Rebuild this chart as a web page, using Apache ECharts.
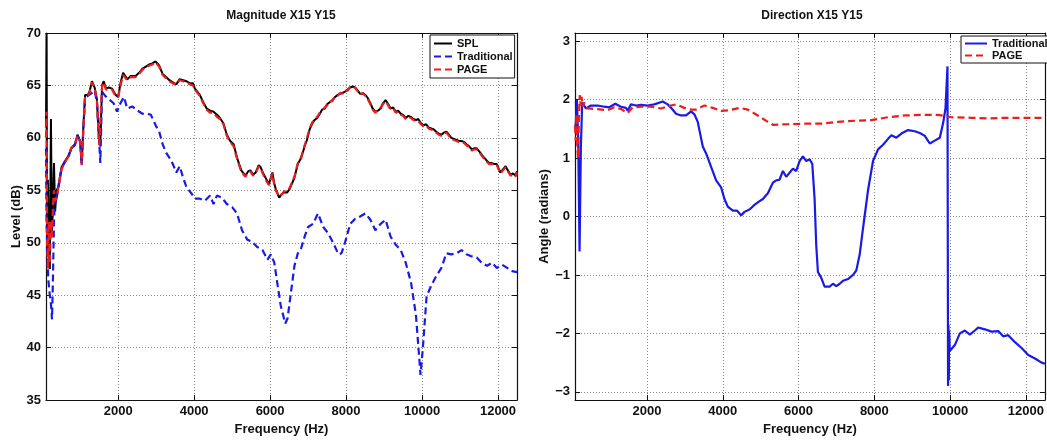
<!DOCTYPE html>
<html>
<head>
<meta charset="utf-8">
<title>Magnitude / Direction X15 Y15</title>
<script src="https://cdn.jsdelivr.net/npm/echarts@6/dist/echarts.min.js"></script>
<style>
  body { margin: 0; background: #fff; }
  #chart { width: 1047px; height: 441px; }
</style>
</head>
<body>
<div id="chart"></div>
<script>
// ---- magnitude panel (dB) ----
var magFreq = [100, 115, 130, 150, 175, 200, 230, 255, 280, 310, 340, 380, 420, 510, 600, 690, 770, 860, 930, 1000,
  1040, 1085, 1130, 1200, 1245, 1310, 1380, 1440, 1500, 1530, 1575, 1620, 1680, 1750, 1840, 1930, 2000, 2060, 2130, 2240,
  2330, 2460, 2550, 2640, 2730, 2820, 2900, 2980, 3080, 3170, 3260, 3350, 3440, 3530, 3620, 3710, 3800, 3890, 3970, 4020,
  4150, 4240, 4330, 4420, 4510, 4600, 4680, 4770, 4860, 4950, 5040, 5130, 5240, 5350, 5420, 5480, 5550, 5620, 5700, 5750,
  5820, 5880, 5970, 6060, 6100, 6150, 6240, 6300, 6370, 6450, 6510, 6570, 6640, 6730, 6820, 6910, 6970, 7040, 7100, 7170,
  7240, 7310, 7370, 7440, 7500, 7570, 7640, 7710, 7780, 7840, 7910, 7970, 8040, 8110, 8180, 8240, 8310, 8370, 8440, 8510,
  8570, 8640, 8700, 8770, 8840, 8910, 8970, 9040, 9110, 9170, 9240, 9310, 9370, 9440, 9500, 9570, 9640, 9710, 9770, 9840,
  9900, 9970, 10040, 10110, 10170, 10240, 10310, 10370, 10440, 10510, 10570, 10640, 10710, 10770, 10840, 10910, 10970, 11040, 11110, 11170,
  11240, 11310, 11370, 11440, 11510, 11570, 11640, 11710, 11770, 11840, 11910, 11970, 12060, 12130, 12200, 12260, 12330, 12400, 12460, 12500];
var splDb = [61, 70, 49, 56, 50, 47.5, 61.8, 51, 53, 57.6, 53, 55, 55.3, 57.2, 57.8, 58.3, 59.0, 59.4, 60.3, 59.7,
  57.5, 61.2, 64.1, 64.1, 64.4, 65.4, 64.8, 63.7, 59.5, 59.3, 65.0, 65.4, 64.7, 64.8, 64.7, 64.1, 63.9, 65.2, 66.2, 65.6,
  65.9, 65.9, 66.2, 66.6, 66.8, 67.0, 67.1, 67.3, 66.9, 66.1, 65.8, 65.5, 65.3, 65.1, 65.6, 65.5, 65.4, 65.2, 65.2, 64.7,
  64.1, 63.4, 62.8, 62.6, 62.5, 62.2, 61.9, 61.4, 60.3, 59.7, 59.4, 58.1, 56.9, 56.4, 56.8, 56.9, 56.5, 56.7, 57.4, 57.2,
  56.6, 56.2, 55.6, 56.7, 55.8, 55.1, 54.3, 54.6, 54.8, 54.8, 55.1, 55.6, 56.2, 57.5, 58.1, 59.2, 59.8, 60.8, 61.3, 61.7,
  61.9, 62.3, 62.7, 62.8, 63.2, 63.4, 63.6, 63.9, 64.1, 64.2, 64.3, 64.4, 64.6, 64.8, 64.9, 64.8, 64.5, 64.2, 64.2, 64.1,
  63.8, 63.3, 62.8, 62.5, 62.6, 62.8, 63.3, 63.6, 63.2, 62.8, 62.9, 62.5, 62.6, 62.3, 62.2, 61.9, 62.1, 62.0, 61.8, 61.7,
  61.8, 61.4, 61.2, 61.3, 61.0, 60.9, 60.8, 60.6, 60.4, 60.3, 60.5, 60.6, 60.3, 60.0, 59.9, 59.8, 59.7, 59.7, 59.6, 59.4,
  59.2, 58.9, 59.0, 59.0, 58.7, 58.4, 58.1, 57.8, 57.6, 57.6, 57.5, 57.5, 56.7, 57.0, 57.3, 56.9, 56.5, 56.6, 56.4, 56.8];
var pageDb = [60, 62.5, 50, 47.5, 52, 48, 52, 50.5, 53.5, 55, 54, 54.2, 55.2, 57.0, 57.7, 58.2, 59.1, 59.3, 60.2, 59.6,
  57.4, 61.0, 64.0, 64.0, 64.3, 65.3, 64.7, 63.6, 59.3, 59.2, 64.9, 65.3, 64.6, 64.7, 64.6, 64.0, 63.9, 65.0, 66.0, 65.5,
  65.8, 65.8, 66.1, 66.5, 66.7, 66.9, 67.0, 67.2, 66.8, 66.0, 65.7, 65.4, 65.2, 65.1, 65.5, 65.4, 65.3, 65.1, 65.0, 64.6,
  64.0, 63.3, 62.7, 62.4, 62.4, 62.0, 61.8, 61.3, 60.2, 59.6, 59.2, 58.0, 56.8, 56.3, 56.7, 56.8, 56.4, 56.6, 57.3, 57.1,
  56.5, 56.0, 55.5, 56.6, 55.7, 55.0, 54.4, 54.6, 54.9, 54.9, 55.2, 55.7, 56.3, 57.6, 58.2, 59.3, 60.0, 60.9, 61.4, 61.8,
  62.0, 62.4, 62.6, 62.9, 63.1, 63.5, 63.5, 64.0, 64.0, 64.3, 64.2, 64.5, 64.5, 64.9, 64.8, 64.8, 64.4, 64.1, 64.3, 64.0,
  63.7, 63.2, 62.7, 62.4, 62.7, 62.9, 63.2, 63.5, 63.1, 62.7, 62.8, 62.4, 62.5, 62.2, 62.1, 61.8, 62.0, 61.9, 61.7, 61.6,
  61.6, 61.3, 61.1, 61.2, 60.9, 60.8, 60.7, 60.5, 60.3, 60.2, 60.4, 60.5, 60.2, 59.9, 59.8, 59.7, 59.6, 59.6, 59.5, 59.3,
  59.1, 58.8, 58.9, 58.9, 58.6, 58.3, 58.0, 57.7, 57.5, 57.5, 57.4, 57.4, 56.6, 56.9, 57.2, 56.8, 56.4, 56.5, 56.3, 56.7];

var tradFreq = [100, 115, 130, 160, 200, 230, 258, 280, 310, 340, 380, 420, 510, 600, 690, 770, 860, 930, 1000, 1040,
  1085, 1130, 1200, 1245, 1310, 1380, 1440, 1500, 1530, 1575, 1660, 1750, 1880, 1970, 2060, 2150, 2240, 2370, 2510, 2640,
  2770, 2860, 3000, 3080, 3170, 3260, 3350, 3440, 3530, 3620, 3710, 3800, 3930, 4020, 4150, 4280, 4420, 4510, 4600, 4730,
  4860, 5000, 5130, 5260, 5400, 5530, 5660, 5800, 5930, 6020, 6110, 6200, 6280, 6400, 6460, 6550, 6640, 6730, 6820, 6910,
  7000, 7130, 7260, 7400, 7530, 7660, 7800, 7880, 7970, 8110, 8240, 8370, 8510, 8640, 8770, 8910, 9040, 9170, 9310, 9440,
  9570, 9710, 9840, 9960, 10020, 10120, 10240, 10370, 10510, 10640, 10770, 10910, 11040, 11170, 11310, 11440, 11570, 11710, 11840, 11970,
  12110, 12240, 12370, 12500];
var tradDb = [59, 52, 50, 46.5, 45, 44.2, 42.7, 46, 52, 54.5, 54.3, 55.0, 57.1, 57.7, 58.2, 59.0, 59.3, 60.2, 59.6, 57.5,
  61, 63.9, 64.0, 64.1, 64.3, 64.5, 63.4, 59.7, 57.6, 64.4, 64.0, 63.7, 63.3, 62.5, 63.3, 63.9, 62.8, 63.0, 62.6, 62.3,
  62.3, 62.2, 61.1, 60.6, 59.4, 58.6, 58.1, 57.5, 56.7, 57.3, 56.2, 55.3, 54.7, 54.2, 54.2, 54.0, 54.5, 53.7, 54.5, 54.3,
  53.7, 53.4, 52.8, 51.2, 50.3, 50.1, 49.6, 49.3, 48.4, 48.9, 48.1, 45.9, 44.0, 42.3, 42.8, 45.3, 47.8, 49.0, 49.5, 50.6,
  51.5, 51.8, 52.8, 51.5, 50.9, 50.0, 48.9, 49.0, 50.0, 51.8, 52.3, 52.5, 52.8, 52.2, 51.2, 51.8, 52.2, 50.6, 49.8, 49.3,
  48.1, 46.2, 43.1, 37.4, 39.9, 44.9, 45.9, 46.8, 47.6, 49.0, 48.9, 49.0, 49.3, 48.9, 48.7, 48.6, 48.1, 47.8, 48.1, 47.6,
  47.9, 47.6, 47.3, 47.2];

// ---- direction panel (radians) ----
var dirTradFreq = [100, 123, 150, 185, 220, 255, 290, 388, 520, 696, 872, 1004, 1163, 1313, 1445, 1489, 1577, 1709, 1841, 2018,
  2194, 2414, 2546, 2652, 2767, 2899, 3031, 3163, 3251, 3339, 3472, 3560, 3692, 3824, 3956, 4044, 4132, 4265, 4379, 4485,
  4573, 4705, 4837, 4943, 5058, 5190, 5322, 5410, 5498, 5586, 5674, 5762, 5850, 5938, 6027, 6115, 6203, 6291, 6362, 6423,
  6467, 6511, 6599, 6687, 6820, 6908, 6996, 7084, 7172, 7304, 7437, 7525, 7613, 7701, 7833, 7965, 8097, 8229, 8362, 8450,
  8582, 8714, 8890, 9067, 9199, 9331, 9463, 9595, 9727, 9815, 9877, 9930, 9945, 9955, 9965, 9975, 9990, 10040, 10124, 10256,
  10388, 10520, 10652, 10740, 10917, 11093, 11269, 11401, 11533, 11710, 11886, 12062, 12238, 12414, 12500];
var dirTrad = [1.5, 1.6, 2.0, 1.3, -0.6, 1.2, 1.95, 1.85, 1.9, 1.9, 1.88, 1.87, 1.93, 1.88, 1.86, 1.81, 1.92, 1.9, 1.91, 1.9,
  1.92, 1.97, 1.92, 1.85, 1.76, 1.73, 1.73, 1.8, 1.75, 1.62, 1.2, 1.08, 0.85, 0.62, 0.5, 0.3, 0.17, 0.1, 0.1, 0.02,
  0.08, 0.12, 0.2, 0.25, 0.3, 0.4, 0.58, 0.62, 0.63, 0.78, 0.68, 0.75, 0.82, 0.78, 0.95, 1.03, 0.95, 0.98, 0.9, 0.3,
  -0.5, -0.95, -1.05, -1.2, -1.2, -1.15, -1.19, -1.15, -1.1, -1.07, -1.0, -0.92, -0.65, -0.2, 0.45, 0.95, 1.15, 1.23, 1.33, 1.39,
  1.35, 1.42, 1.48, 1.46, 1.43, 1.38, 1.25, 1.3, 1.35, 1.6, 1.85, 2.57, -2.9, -1.85, -2.8, -1.95, -2.3, -2.28, -2.2, -2.0,
  -1.95, -2.02, -1.95, -1.9, -1.93, -1.97, -1.96, -2.05, -2.03, -2.15, -2.25, -2.37, -2.43, -2.5, -2.52];

var dirPageFreq = [100, 120, 140, 160, 180, 200, 225, 250, 275, 300, 340, 432, 696, 960, 1137, 1313, 1489, 1621, 1841, 2106,
  2370, 2634, 2767, 2987, 3163, 3295, 3516, 3736, 3956, 4176, 4441, 4661, 4925, 5190, 5322, 5718, 6159, 6599, 7040, 7481,
  7921, 8362, 8802, 9243, 9683, 10035, 10564, 11005, 11445, 11886, 12500];
var dirPage = [1.55, 1.3, 1.75, 1.2, 1.0, 1.6, 2.08, 1.9, 2.05, 1.88, 1.95, 1.85, 1.84, 1.82, 1.87, 1.84, 1.77, 1.87, 1.88, 1.88,
  1.85, 1.9, 1.92, 1.86, 1.83, 1.83, 1.9, 1.86, 1.81, 1.82, 1.86, 1.83, 1.73, 1.62, 1.57, 1.58, 1.59, 1.59, 1.62, 1.64,
  1.65, 1.7, 1.73, 1.74, 1.74, 1.7, 1.69, 1.68, 1.69, 1.69, 1.69];

var freqTicks = [2000, 4000, 6000, 8000, 10000, 12000];
var angleTicks = [-3, -2, -1, 0, 1, 2, 3];

function pairs(xs, ys) {
  return xs.map(function (x, i) { return [x, ys[i]]; });
}

var font = 'Liberation Sans, Arial, sans-serif';
var grid0 = { left: 46, top: 33, width: 471, height: 373 };
var grid1 = { left: 575, top: 33, width: 473, height: 373 };

function freqAxis(gi, pos, main) {
  return {
    type: 'value', gridIndex: gi, position: pos, min: 100, max: 12500,
    name: main ? 'Frequency (Hz)' : '', nameLocation: 'middle', nameGap: 17,
    nameTextStyle: { fontFamily: font, fontWeight: 'bold', fontSize: 13, color: '#111' },
    axisLine: { onZero: false, lineStyle: { color: '#111', width: 1.2 } },
    axisTick: { show: true, inside: true, length: 5, customValues: freqTicks, lineStyle: { color: '#111' } },
    axisLabel: { show: main, customValues: freqTicks, margin: 5, fontFamily: font, fontWeight: 'bold', fontSize: 13, color: '#111',
      formatter: function (v) { return String(v); } },
    splitLine: { show: main, lineStyle: { color: '#8a8a8a', type: [1, 2], width: 1 } }
  };
}

function valAxis(gi, pos, main, opts) {
  var ax = {
    type: 'value', gridIndex: gi, position: pos, min: opts.min, max: opts.max,
    name: main ? opts.name : '', nameLocation: 'middle', nameGap: opts.gap,
    nameTextStyle: { fontFamily: font, fontWeight: 'bold', fontSize: 13, color: '#111' },
    axisLine: { onZero: false, lineStyle: { color: '#111', width: 1.2 } },
    axisTick: { show: true, inside: true, length: 5, lineStyle: { color: '#111' } },
    axisLabel: { show: main, margin: 5, fontFamily: font, fontWeight: 'bold', fontSize: 13, color: '#111',
      formatter: function (v) { return String(v).replace('-', '\u2212'); } },
    splitLine: { show: main, lineStyle: { color: '#8a8a8a', type: [1, 2], width: 1 } }
  };
  if (opts.interval) ax.interval = opts.interval;
  if (opts.ticks) { ax.axisTick.customValues = opts.ticks; ax.axisLabel.customValues = opts.ticks; }
  return ax;
}

var magOpts = { min: 35, max: 70, interval: 5, name: 'Level (dB)', gap: 23 };
var dirOpts = { min: -Math.PI, max: Math.PI, ticks: angleTicks, name: 'Angle (radians)', gap: 22 };

var legendText = { fontFamily: font, fontWeight: 'bold', fontSize: 11, color: '#111' };

var chart = echarts.init(document.getElementById('chart'), null, { renderer: 'canvas' });

chart.setOption({
  animation: false,
  backgroundColor: '#fff',
  title: [
    { text: 'Magnitude X15 Y15', left: 281, top: 10, textAlign: 'center', padding: 0,
      textStyle: { fontFamily: font, fontWeight: 'bold', fontSize: 12, color: '#111' } },
    { text: 'Direction X15 Y15', left: 812, top: 10, textAlign: 'center', padding: 0,
      textStyle: { fontFamily: font, fontWeight: 'bold', fontSize: 12, color: '#111' } }
  ],
  legend: [
    { data: ['SPL', 'Traditional', 'PAGE'], orient: 'vertical', left: 430, top: 35,
      padding: [3, 2, 3, 3], itemGap: 2, itemWidth: 18, itemHeight: 11,
      itemStyle: { opacity: 0 },
      backgroundColor: '#fff', borderColor: '#111', borderWidth: 1, textStyle: legendText },
    { data: ['Traditional ', 'PAGE '], orient: 'vertical', left: 961, top: 36,
      padding: [2, 3, 2, 3], itemGap: 1, itemWidth: 22, itemHeight: 11,
      itemStyle: { opacity: 0 },
      backgroundColor: '#fff', borderColor: '#111', borderWidth: 1, textStyle: legendText }
  ],
  grid: [grid0, grid1],
  xAxis: [freqAxis(0, 'bottom', true), freqAxis(0, 'top', false), freqAxis(1, 'bottom', true), freqAxis(1, 'top', false)],
  yAxis: [valAxis(0, 'left', true, magOpts), valAxis(0, 'right', false, magOpts),
          valAxis(1, 'left', true, dirOpts), valAxis(1, 'right', false, dirOpts)],
  series: [
    { name: 'SPL', type: 'line', xAxisIndex: 0, yAxisIndex: 0, symbol: 'none',
      lineStyle: { color: '#000', width: 2 }, itemStyle: { color: '#000' },
      data: pairs(magFreq, splDb) },
    { name: 'Traditional', type: 'line', xAxisIndex: 0, yAxisIndex: 0, symbol: 'none',
      lineStyle: { color: '#1a1ae6', width: 2.2, type: [7, 4] }, itemStyle: { color: '#1a1ae6' },
      data: pairs(tradFreq, tradDb) },
    { name: 'PAGE', type: 'line', xAxisIndex: 0, yAxisIndex: 0, symbol: 'none',
      lineStyle: { color: '#ee1c1c', width: 2.2, type: [7, 4] }, itemStyle: { color: '#ee1c1c' },
      data: pairs(magFreq, pageDb) },
    { name: 'Traditional ', type: 'line', xAxisIndex: 2, yAxisIndex: 2, symbol: 'none',
      lineStyle: { color: '#1a1ae6', width: 2.2 }, itemStyle: { color: '#1a1ae6' },
      data: pairs(dirTradFreq, dirTrad) },
    { name: 'PAGE ', type: 'line', xAxisIndex: 2, yAxisIndex: 2, symbol: 'none',
      lineStyle: { color: '#ee1c1c', width: 2.2, type: [7, 4] }, itemStyle: { color: '#ee1c1c' },
      data: pairs(dirPageFreq, dirPage) }
  ]
});
</script>
</body>
</html>
